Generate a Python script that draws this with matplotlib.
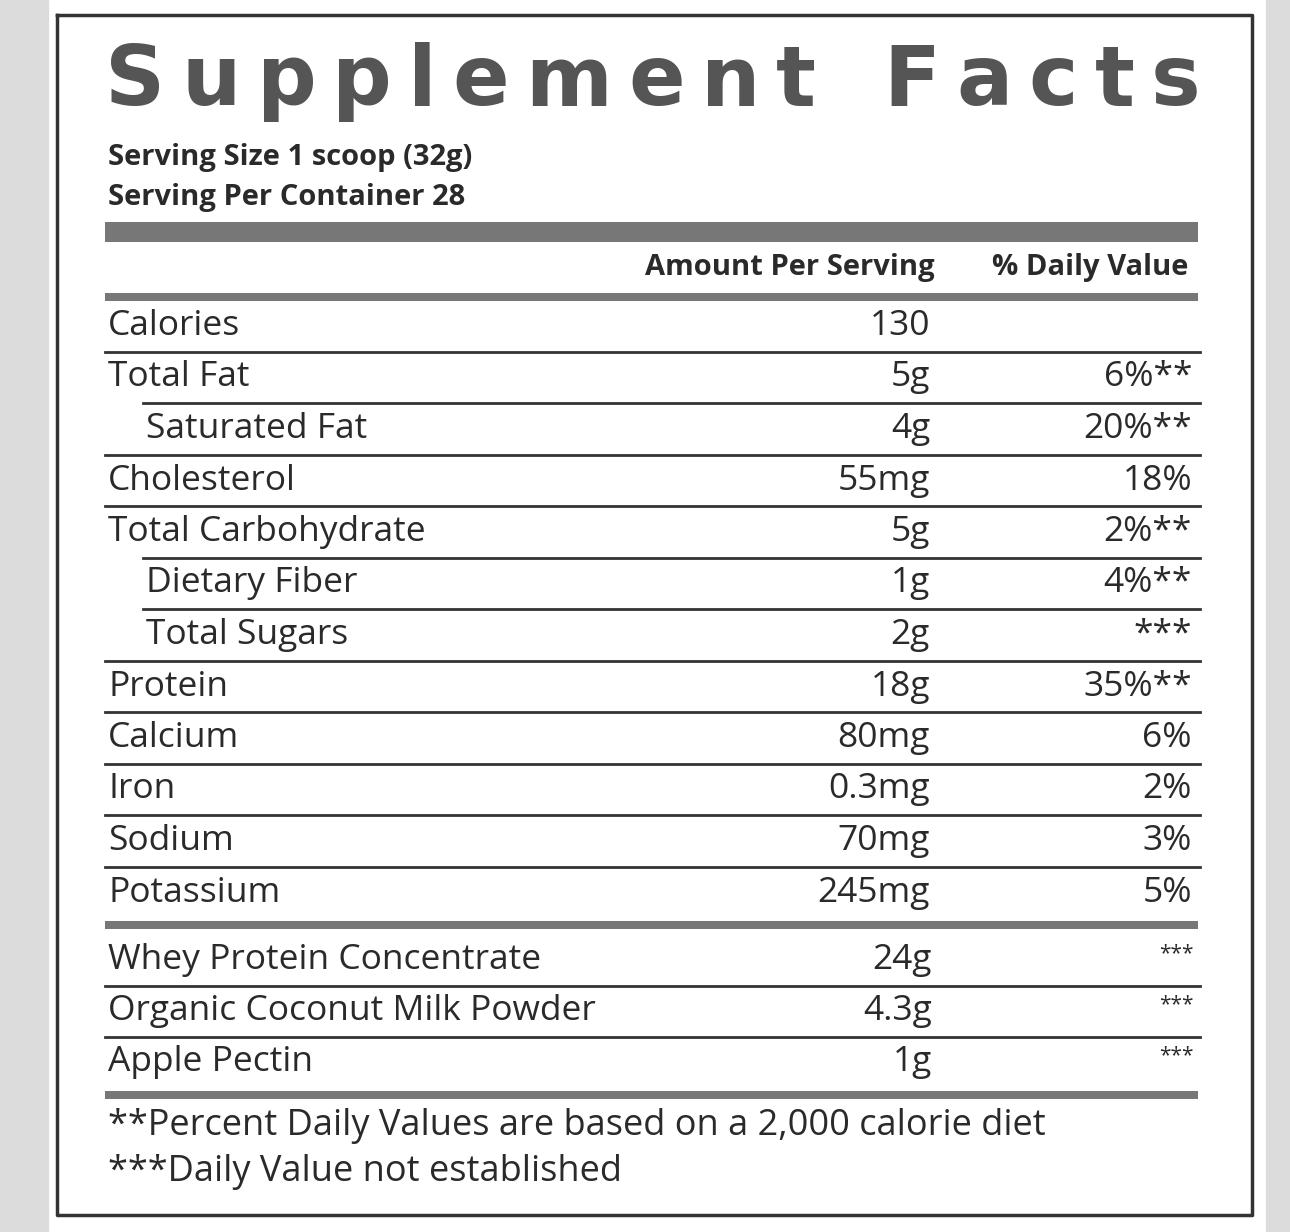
import matplotlib
matplotlib.use("Agg")
import matplotlib.pyplot as plt

names = ["Calories", "Total Fat", "Saturated Fat", "Cholesterol", "Total Carbohydrate",
         "Dietary Fiber", "Total Sugars", "Protein", "Calcium", "Iron", "Sodium", "Potassium"]
amounts = ["130", "5g", "4g", "55mg", "5g", "1g", "2g", "18g", "80mg", "0.3mg", "70mg", "245mg"]
dvs = ["", "6%**", "20%**", "18%", "2%**", "4%**", "***", "35%**", "6%", "2%", "3%", "5%"]
indent = [0, 0, 1, 0, 0, 1, 1, 0, 0, 0, 0, 0]

ing_names = ["Whey Protein Concentrate", "Organic Coconut Milk Powder", "Apple Pectin"]
ing_amounts = ["24g", "4.3g", "1g"]
ing_dvs = ["***", "***", "***"]

W, H = 1290, 1232
fig = plt.figure(figsize=(W/100, H/100), dpi=100)
ax = fig.add_axes([0, 0, 1, 1])
ax.set_xlim(0, W); ax.set_ylim(H, 0); ax.axis("off")
fig.patch.set_facecolor("white")
ax.axvspan(0, 48, color="#dcdcdc")
ax.axvspan(1266, W, color="#dcdcdc")
ax.plot([57, 1252, 1252, 57, 57], [15, 15, 1215, 1215, 15], color="#333", lw=2.5)

font = "Open Sans"
ink = "#2a2a2a"

# Title with letters spread to fill the width
title = "Supplement Facts"
x0, x1 = 105, 1200
fig.canvas.draw()
r = fig.canvas.get_renderer()
tf = dict(fontsize=60, fontweight="heavy", family="DejaVu Sans", color="#555", va="center", ha="left")
widths = []
for ch in title:
    t = ax.text(0, 0, ch if ch != " " else "n", **tf)
    bb = t.get_window_extent(r)
    widths.append(bb.width * (0.6 if ch == " " else 1.0))
    t.remove()
gap = (x1 - x0 - sum(widths)) / (len(title) - 1)
x = x0
for ch, w in zip(title, widths):
    if ch != " ":
        ax.text(x, 82, ch, **tf)
    x += w + gap

ax.text(108, 158, "Serving Size 1 scoop (32g)", fontsize=21, fontweight="bold", family=font, color=ink, va="center")
ax.text(108, 197, "Serving Per Container 28", fontsize=21, fontweight="bold", family=font, color=ink, va="center")

def bar(y, h):
    ax.add_patch(plt.Rectangle((105, y - h/2), 1093, h, color="#777", lw=0))
bar(232, 20)
ax.text(935, 267, "Amount Per Serving", fontsize=21, fontweight="bold", family=font, color=ink, ha="right", va="center")
ax.text(1188, 267, "% Daily Value", fontsize=21, fontweight="bold", family=font, color=ink, ha="right", va="center")
bar(297, 8)

fs = 25.5
y = 326; dy = 51.5
for i in range(len(names)):
    ax.text(108 + 38*indent[i], y, names[i], fontsize=fs, family=font, color=ink, va="center")
    ax.text(930, y, amounts[i], fontsize=fs, family=font, color=ink, va="center", ha="right")
    ax.text(1192, y, dvs[i], fontsize=fs, family=font, color=ink, va="center", ha="right")
    if i < len(names) - 1:
        lx = 105 + 38*indent[i+1]
        ax.plot([lx, 1200], [y + dy/2, y + dy/2], color="#333", lw=2)
    y += dy
bar(925, 8)
y = 960
for i in range(len(ing_names)):
    ax.text(108, y, ing_names[i], fontsize=fs, family=font, color=ink, va="center")
    ax.text(932, y, ing_amounts[i], fontsize=fs, family=font, color=ink, va="center", ha="right")
    ax.text(1194, y - 6, ing_dvs[i], fontsize=15, family=font, color=ink, va="center", ha="right")
    if i < len(ing_names) - 1:
        ax.plot([105, 1200], [y + 25.5, y + 25.5], color="#333", lw=2)
    y += 51
bar(1095, 8)
ax.text(108, 1126, "**Percent Daily Values are based on a 2,000 calorie diet", fontsize=26, family=font, color=ink, va="center")
ax.text(108, 1172, "***Daily Value not established", fontsize=26, family=font, color=ink, va="center")
fig.savefig("out.png", dpi=100)
